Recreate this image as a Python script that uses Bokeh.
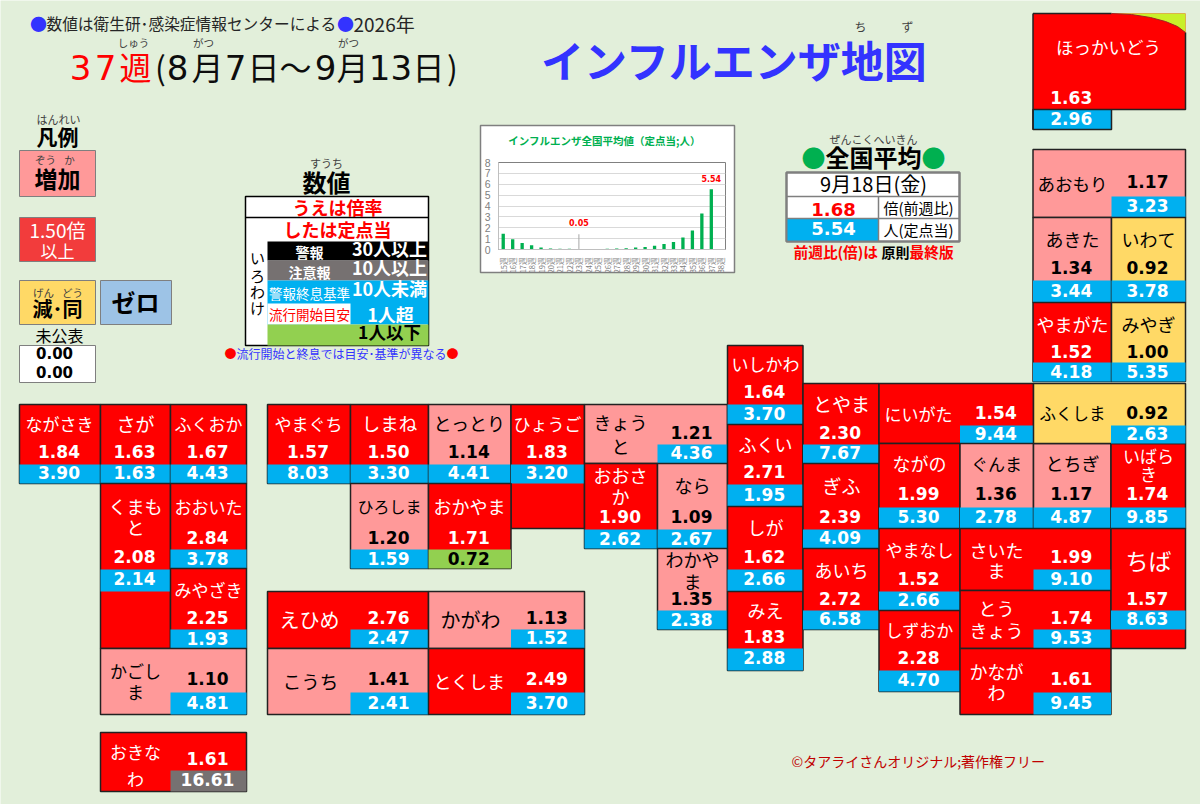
from collections import defaultdict
from bokeh.plotting import figure
from bokeh.layouts import column
from bokeh.models import Range1d, FactorRange, ColumnDataSource, FixedTicker
from bokeh.core.properties import value
from bokeh.embed import file_html
from bokeh.resources import INLINE

# ---------- data ----------
PREFS = ["ながさき","さが","ふくおか","くまもと","おおいた","みやざき","かごしま","おきなわ",
         "やまぐち","しまね","とっとり","ひょうご","ひろしま","おかやま",
         "えひめ","かがわ","こうち","とくしま",
         "きょうと","おおさか","なら","わかやま",
         "いしかわ","ふくい","しが","みえ","とやま","ぎふ","あいち",
         "にいがた","ながの","ぐんま","とちぎ","いばらき","やまなし","しずおか",
         "さいたま","とうきょう","かながわ","ちば","ふくしま",
         "ほっかいどう","あおもり","あきた","いわて","やまがた","みやぎ"]
RATIO = [1.84,1.63,1.67,2.08,2.84,2.25,1.10,1.61,
         1.57,1.50,1.14,1.83,1.20,1.71,
         2.76,1.13,1.41,2.49,
         1.21,1.90,1.09,1.35,
         1.64,2.71,1.62,1.83,2.30,2.39,2.72,
         1.54,1.99,1.36,1.17,1.74,1.52,2.28,
         1.99,1.74,1.61,1.57,0.92,
         1.63,1.17,1.34,0.92,1.52,1.00]
PER_SITE = ["3.90","1.63","4.43","2.14","3.78","1.93","4.81","16.61",
            "8.03","3.30","4.41","3.20","1.59","0.72",
            "2.47","1.52","2.41","3.70",
            "4.36","2.62","2.67","2.38",
            "3.70","1.95","2.66","2.88","7.67","4.09","6.58",
            "9.44","5.30","2.78","4.87","9.85","2.66","4.70",
            "9.10","9.53","9.45","8.63","2.63",
            "2.96","3.23","3.44","3.78","4.18","5.35"]
WEEKS = [f"{w}週" for w in range(15, 39)]
NATIONAL = [1.45,0.95,0.60,0.40,0.18,0.10,0.08,0.06,0.05,0.05,0.05,0.08,
            0.10,0.12,0.18,0.22,0.35,0.50,0.68,1.10,1.75,3.30,5.54,0.0]

# ---------- layout (page pixels) ----------
# cell x0,x1,y0,y1 | value box x0,x1,y0,y1 | name x, name lines' y, size | ratio y, box-text y
L = {
"ながさき":(19,100,404,483, 19,100,464,483, 59,[424],17, 452,472),
"さが":(100,170,404,483, 100,170,464,483, 135,[424],19, 452,472),
"ふくおか":(170,246,404,483, 170,246,464,483, 208,[424],17, 452,472),
"くまもと":(100,170,483,648, 100,170,569,591, 135,[507,528],18, 557,578),
"おおいた":(170,246,483,568, 170,246,549,568, 208,[507],17, 538,558),
"みやざき":(170,246,568,648, 170,246,629,648, 208,[590],17, 618,638),
"かごしま":(100,246,648,714, 170,246,692,714, 135,[671,692],17, 679,702),
"おきなわ":(100,246,732,791, 170,246,770,791, 135,[752,779],17, 759,779),
"やまぐち":(267,350,404,483, 267,350,464,483, 308,[424],17, 452,472),
"しまね":(350,428,404,483, 350,428,464,483, 389,[424],18.5, 452,472),
"とっとり":(428,510.5,404,483, 428,510.5,464,483, 469,[424],18, 452,472),
"ひょうご":(510.5,584,404,528, 510.5,584,464,483, 547,[424],17, 452,472),
"ひろしま":(350,428,483,568, 350,428,549,568, 389,[507],16, 538,558),
"おかやま":(428,510.5,483,568, 428,510.5,549,568, 469,[507],18, 538,558),
"えひめ":(267,428,591,648, 350,428,629,648, 309,[620],20, 618,637),
"かがわ":(428,584,591,648, 510.5,584,629,648, 470,[620],20, 618,637),
"こうち":(267,428,648,714, 350,428,692,714, 310,[682],18.5, 679,702),
"とくしま":(428,584,648,714, 510.5,584,692,714, 469,[682],18, 679,702),
"きょうと":(584,727,404,463, 657,727,444,463, 620,[423,447],18, 433,452),
"おおさか":(584,657,463,548, 584,657,529,548, 620,[476,497],18, 517,538),
"なら":(657,727,463,548, 657,727,529,548, 692,[486],18, 517,538),
"わかやま":(657,727,548,629, 657,727,610,629, 692,[560,582],18, 599,619),
"いしかわ":(727,802.5,345,424, 727,802.5,404,424, 765,[364],17, 392,413),
"ふくい":(727,802.5,424,506, 727,802.5,484,506, 765,[445],18, 472,494),
"しが":(727,802.5,506,591, 727,802.5,569,591, 765,[528],18, 557,578),
"みえ":(727,802.5,591,670, 727,802.5,648,670, 765,[611],18, 637,657),
"とやま":(802.5,878.5,383,463, 802.5,878.5,444,463, 841,[404],19, 433,452),
"ぎふ":(802.5,878.5,463,548, 802.5,878.5,529,548, 841,[486],19, 517,537),
"あいち":(802.5,878.5,548,629, 802.5,878.5,610,629, 841,[571],18, 599,618),
"にいがた":(878.5,1033,383,443, 959.5,1033,425,443, 918,[414],17, 413,433),
"ながの":(878.5,959.5,443,528, 878.5,959.5,507,528, 919,[464],18, 494,516),
"ぐんま":(959.5,1033,443,528, 959.5,1033,507,528, 996,[464],17, 494,516),
"とちぎ":(1033,1110.5,443,528, 1033,1110.5,507,528, 1072,[464],18, 494,516),
"いばらき":(1110.5,1185,443,528, 1110.5,1185,507,528, 1148,[456,474],17, 494,516),
"やまなし":(878.5,959.5,528,610, 878.5,959.5,591,610, 919,[550],17, 579,599),
"しずおか":(878.5,959.5,610,691, 878.5,959.5,670,691, 919,[630],17, 658,679),
"さいたま":(959.5,1110.5,528,590, 1033,1110.5,569,590, 996,[551,571],18, 557,578),
"とうきょう":(959.5,1110.5,590,648, 1033,1110.5,629,648, 996,[609,631],18, 618,637),
"かながわ":(959.5,1110.5,648,714, 1033,1110.5,692,714, 996,[672,693],18, 679,702),
"ちば":(1110.5,1185,528,648, 1110.5,1185,610,629, 1148,[561],23, 599,618),
"ふくしま":(1033,1185,383,443, 1110.5,1185,425,443, 1072,[414],16.5, 413,433),
"ほっかいどう":(1032.5,1185,13,109, 1032.5,1111,109,129, 1108,[47],17.5, 98,118),
"あおもり":(1032.5,1185,149,217, 1111,1185,196,217, 1072,[184],17.5, 182,205),
"あきた":(1032.5,1111,217,302, 1032.5,1111,280,302, 1072,[240],18, 268,290),
"いわて":(1111,1185,217,302, 1111,1185,280,302, 1148,[240],18, 268,290),
"やまがた":(1032.5,1111,302,381, 1032.5,1111,362,381, 1072,[325],18, 352,371),
"みやぎ":(1111,1185,302,381, 1111,1185,362,381, 1148,[325],18, 352,371),
}

BG="#e2efda"; RED="#ff0000"; PINK="#ff9999"; YEL="#ffd966"; BLUE="#00b0f0"; GRAY="#767171"; GREEN="#92d050"
CJK="Noto Sans CJK JP"; NUM="DejaVu Sans"; RUBY="#404040"; INK="#262626"; VIOLET="#3333ff"

p = figure(width=1200, height=804, x_range=Range1d(0,1200), y_range=Range1d(804,0),
           output_backend="svg", toolbar_location=None, min_border=0,
           background_fill_color=BG, border_fill_color=BG, outline_line_color=None)
p.axis.visible=False
p.grid.visible=False

texts=defaultdict(lambda: defaultdict(list))
def T(x,y,s,size,color="#000000",font=CJK,style="normal",align="center"):
    g=texts[(font,style,align)]
    if font==CJK: y=y-size*0.07
    g["x"].append(x); g["y"].append(y); g["t"].append(s); g["fs"].append(f"{size}px"); g["c"].append(color)
def box(x0,x1,y0,y1,fill,line=None,w=1.5):
    p.quad(left=[x0],right=[x1],top=[y0],bottom=[y1],fill_color=fill,line_color=line,line_width=w)

# ---------- prefectures ----------
def cell_fill(r): return RED if r>=1.5 else PINK if r>1 else YEL
def box_fill(v): return "#000000" if v>=30 else GRAY if v>=10 else BLUE if v>1 else GREEN
for n,r,v in zip(PREFS,RATIO,PER_SITE):
    x0,x1,y0,y1,bx0,bx1,by0,by1,nx,nys,ns,ry,by = L[n]
    fill=cell_fill(r); tc="#ffffff" if fill==RED else "#000000"
    hok = n=="ほっかいどう"
    box(x0,x1,y0,y1,fill,None if hok else "#222222")
    fv=float(v)
    box(bx0,bx1,by0,by1,box_fill(fv),"#222222" if hok else None,1.5 if hok else 1)
    if hok:
        p.line([x0,x0],[y0,by1],line_color="#222222",line_width=1.5)
        p.line([x0,1111],[y0,y0],line_color="#222222",line_width=1.5)
        p.line([1111,x1,x1],[y1,y1,32],line_color="#222222",line_width=1.5)
    if len(nys)==2:
        splits={"くまもと":3,"かごしま":3,"おきなわ":3,"きょうと":3,"おおさか":3,"わかやま":3,"いばらき":3,"さいたま":3,"とうきょう":2,"かながわ":3}
        k=splits[n]; lines=[n[:k],n[k:]]
    else: lines=[n]
    for ln,yy in zip(lines,nys):
        T(nx,yy,ln,ns,tc)
    T((bx0+bx1)/2-1,ry-1,f"{r:.2f}",17,tc,NUM,"bold")
    T((bx0+bx1)/2-1,by,v,17,"#000000" if box_fill(fv)==GREEN else "#ffffff",NUM,"bold")

# hokkaido corner
p.patch([1111,1131,1150,1165,1177,1185,1185],[13,14,17,21,26,32,13],fill_color="#c8f02a",line_color=None)
p.line([1111,1131,1150,1165,1177,1185],[13,14,17,21,26,32],line_color="#a02020",line_width=1)

# ---------- header ----------
T(38,24,"●",17,VIOLET)
T(46,24,"数値は衛生研･感染症情報センターによる",15.7,INK,align="left")
T(345,24,"●",17,VIOLET)
T(353,24,"2026年",19,INK,align="left")
for s,x in [("3",80),("7",105)]: T(x,67,s,34,RED,NUM)
T(135,68,"週",32,RED)
for s,x,f in [("(",160,CJK),("8",177,NUM),("月",207,CJK),("7",235,NUM),("日",263,CJK),("～",295,CJK),
              ("9",325,NUM),("月",352,CJK),("13",390,NUM),("日",428,CJK),(")",452,CJK)]:
    T(x,67 if f==NUM else 68,s,32 if f==CJK else 34,"#0d0d0d",f)
for s,x in [("しゅう",133),("がつ",203),("がつ",348)]: T(x,43,s,10.5,RUBY)
T(734,62,"インフルエンザ地図",43,VIOLET,CJK,"bold")
T(860,27,"ち",12,RUBY); T(907,27,"ず",12,RUBY)

# ---------- legend ----------
T(58,119,"はんれい",11,RUBY); T(57,137,"凡例",21,"#000000",CJK,"bold")
LB="#7f7f7f"
box(19,95,150,196,PINK,LB,1)
T(45,160,"ぞう",10.5,RUBY); T(69,160,"か",10.5,RUBY); T(57,179,"増加",23,"#000000",CJK,"bold")
box(19,95,217,261,"#f23c3c",LB,1)
T(57,230,"1.50倍",19,"#ffffff"); T(57,251,"以上",17,"#ffffff")
box(19,95,280,324,YEL,LB,1)
T(43,293,"げん",10.5,RUBY); T(72,293,"どう",10.5,RUBY); T(57,309,"減･同",20,"#000000",CJK,"bold")
box(100,171,280,324,"#9dc3e6",LB,1)
T(135,303,"ゼロ",24,"#000000",CJK,"bold")
T(59,336,"未公表",16,"#000000")
box(19,95,345,382,"#ffffff",LB,1)
T(54,352,"0.00",15,"#000000",NUM,"bold"); T(54,371,"0.00",15,"#000000",NUM,"bold")

# ---------- value key ----------
T(326,163,"すうち",11,RUBY); T(326,183,"数値",24,"#000000",CJK,"bold")
box(245,428,196,345,"#ffffff","#000000",1.5)
p.line([245,428],[217,217],line_color="#000000",line_width=1.5)
T(337,208,"うえは倍率",18,RED,CJK,"bold"); T(337,230,"したは定点当",18,RED,CJK,"bold")
box(267,428,241,260,"#000000"); box(267,428,260,280,GRAY); box(267,428,280,324,BLUE)
box(267,350,303,324,"#ffffff"); box(267,428,324,345,GREEN)
T(309,252,"警報",14,"#ffffff",CJK,"bold"); T(389,249,"30人以上",18,"#ffffff",CJK,"bold")
T(309,272,"注意報",14,"#ffffff",CJK,"bold"); T(389,268,"10人以上",18,"#ffffff",CJK,"bold")
T(309,293,"警報終息基準",13.5,"#ffffff"); T(389,289,"10人未満",18,"#ffffff",CJK,"bold")
T(309,314,"流行開始目安",13.5,RED); T(390,315,"1人超",18,"#ffffff",CJK,"bold")
T(389,332,"1人以下",17.5,"#000000",CJK,"bold")
for ch,y in zip("いろわけ",[258,276,292,308]): T(257,y,ch,15,"#000000")
T(230,354,"●",12,RED); T(452,354,"●",12,RED)
T(341,354,"流行開始と終息では目安･基準が異なる",12,VIOLET)

# ---------- national table ----------
T(873,139,"ぜんこくへいきん",11,RUBY); T(873,158,"全国平均",24,"#000000",CJK,"bold")
T(813,158,"●",24,"#00b050"); T(933,158,"●",24,"#00b050")
TB="#7f7f7f"
box(786,959,172,241,"#ffffff",TB,2)
box(786,878,218,241,BLUE)
p.multi_line([[786,959],[786,959],[878,878]],[[196,196],[218,218],[196,241]],line_color=TB,line_width=1.5)
p.quad(left=[786],right=[959],top=[172],bottom=[241],fill_color=None,line_color=TB,line_width=2)
T(873,184,"9月18日(金)",20,"#000000")
T(833,209,"1.68",18,RED,NUM,"bold"); T(918,208,"倍(前週比)",15,"#000000")
T(833,228,"5.54",18,"#ffffff",NUM,"bold"); T(918,230,"人(定点当)",15,"#000000")
T(793,252,"前週比(倍)は",14.7,RED,CJK,"bold","left"); T(881,252,"原則",14,"#000000",CJK,"bold","left"); T(909,252,"最終版",14.7,RED,CJK,"bold","left")
T(791,761,"©タアライさんオリジナル;著作権フリー",14,"#c00000",align="left")

# inset plate (white) and its title; the chart itself is a transparent figure laid over it
box(480,734,125,272,"#ffffff","#7f7f7f",1.5)
T(604,141,"インフルエンザ全国平均値（定点当;人）",10.5,"#00b050",CJK,"bold")

for (font,style,align),g in texts.items():
    p.text("x","y",text="t",source=ColumnDataSource(dict(g)),text_font=value(font),text_font_style=style,
           text_align=align,text_baseline="middle",text_color="c",text_font_size="fs")

# ---------- inset bar chart ----------
q = figure(frame_width=227, frame_height=87, x_range=FactorRange(*WEEKS, range_padding=0.0), y_range=Range1d(0,8),
           output_backend="svg", toolbar_location=None,
           min_border_left=17, min_border_right=8, min_border_top=36, min_border_bottom=22,
           background_fill_color="#ffffff", border_fill_alpha=0.0, border_fill_color=None,
           outline_line_color="#808080")
q.vbar(x=WEEKS[:-1], top=NATIONAL[:-1], width=0.35, fill_color="#00b050", line_color=None)
q.xgrid.visible=False
q.ygrid.grid_line_color="#d9d9d9"
q.ygrid.ticker=FixedTicker(ticks=list(range(0,9)))
q.yaxis.ticker=FixedTicker(ticks=list(range(0,9)))
q.axis.major_label_text_color="#808080"
q.axis.axis_line_color="#bfbfbf"
q.axis.major_tick_line_color=None
q.axis.minor_tick_line_color=None
q.yaxis.major_label_text_font_size="10.5px"
q.yaxis.major_label_standoff=2
q.xaxis.major_label_text_font_size="7.5px"
q.xaxis.major_label_text_font=CJK
q.xaxis.major_label_orientation=1.5708
q.xaxis.major_label_standoff=2
q.segment(x0=["23週"],y0=[0.05],x1=["23週"],y1=[1.4],line_color="#a6a6a6",line_width=1)
q.text(x=["37週","23週"],y=[NATIONAL[22],NATIONAL[8]],text=["5.54","0.05"],
       y_offset=[-7,-23],text_color=RED,text_font_size="8px",text_font=value(NUM),text_font_style="bold",
       text_align="center",text_baseline="bottom")

inset = column(q, margin=(-678,0,533,481))
html = file_html(column(p,inset), INLINE, title="インフルエンザ地図")
open("out.html","w",encoding="utf-8").write(html)
